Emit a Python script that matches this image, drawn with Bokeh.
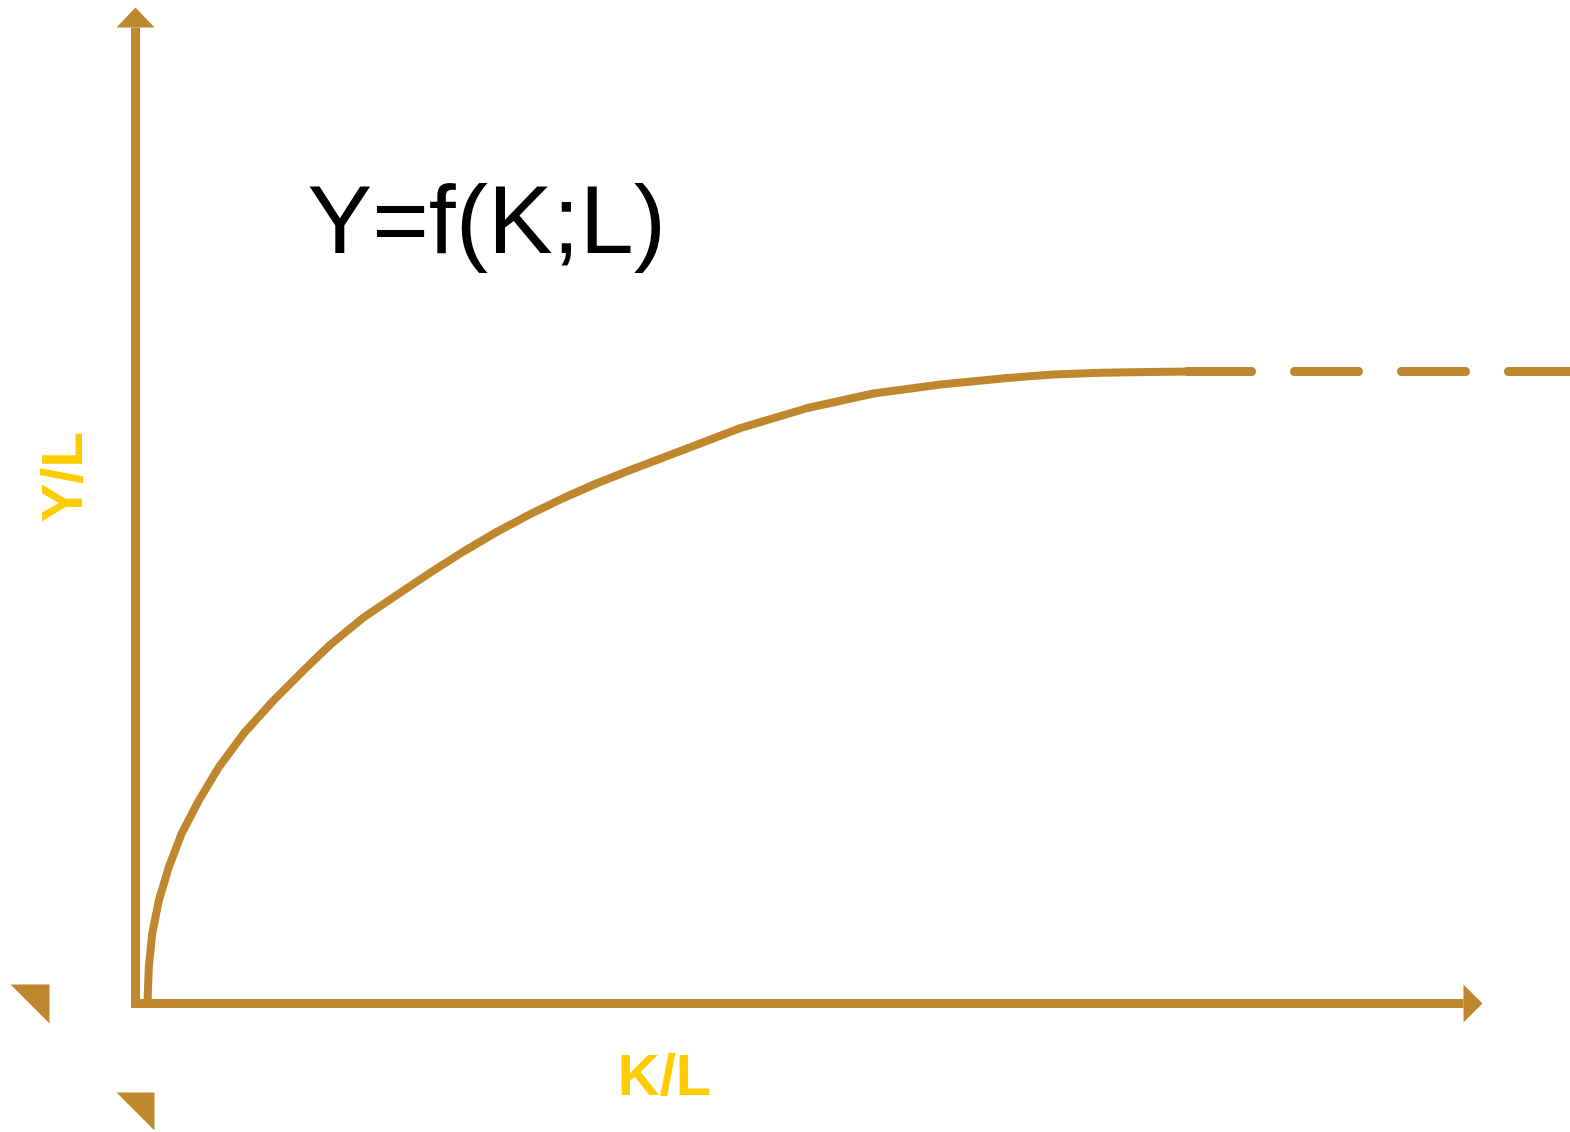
import math
from bokeh.plotting import figure
from bokeh.models import Range1d
from bokeh.core.properties import value
from bokeh.embed import file_html
from bokeh.resources import INLINE

# ---- data (units: K/L horizontally, Y/L vertically) ----
curve_k = [0.12, 0.133, 0.167, 0.233, 0.333, 0.46, 0.633, 0.833, 1.08, 1.38,
           1.71, 1.95, 2.28, 2.62, 2.95, 3.28, 3.62, 3.95, 4.28, 4.62, 4.95,
           5.28, 6.05, 6.72, 7.38, 8.05, 8.72, 9.18, 9.65, 10.15, 10.52]
curve_y = [0.0, 0.363, 0.697, 1.03, 1.363, 1.697, 2.03, 2.363, 2.697, 3.03,
           3.36, 3.59, 3.86, 4.09, 4.31, 4.52, 4.72, 4.895, 5.055, 5.205, 5.335,
           5.46, 5.755, 5.955, 6.10, 6.19, 6.255, 6.29, 6.307, 6.316, 6.32]
asym_k = [10.52, 14.6]
asym_y = [6.32, 6.32]

x_axis_end = 13.28
y_axis_end = 9.76
arrow_half = 0.19
arrow_len = 0.19

title_text = "Y=f(K;L)"
xlabel_text = "K/L"
ylabel_text = "Y/L"

GOLD = "#BF872E"
YELLOW = "#FFCC00"

p = figure(width=1570, height=1132, output_backend="svg", toolbar_location=None,
           x_range=Range1d(-1.35, 14.35), y_range=Range1d(-1.29, 10.03),
           x_axis_type=None, y_axis_type=None, min_border=0)
p.outline_line_color = None
p.grid.visible = False
p.background_fill_color = "white"
p.border_fill_color = "white"

# curve
p.line(curve_k, curve_y, line_color=GOLD, line_width=8, line_join="round")
# dashed asymptote
p.line(asym_k, asym_y, line_color=GOLD, line_width=9, line_dash="64 43",
       line_cap="round")

# axes
p.line([0, 0], [-0.04, y_axis_end], line_color=GOLD, line_width=9, line_cap="butt")
p.line([-0.04, x_axis_end], [0, 0], line_color=GOLD, line_width=9, line_cap="butt")
# arrow heads
p.patches([[-arrow_half, arrow_half, 0],
           [x_axis_end, x_axis_end, x_axis_end + arrow_len]],
          [[y_axis_end, y_axis_end, y_axis_end + 0.20],
           [arrow_half, -arrow_half, 0]],
          fill_color=GOLD, line_color=None)
# stray arrow tails
p.patches([[-1.25, -0.86, -0.86], [-arrow_half, arrow_half, arrow_half]],
          [[0.19, 0.19, -0.20], [-0.89, -0.89, -1.27]],
          fill_color=GOLD, line_color=None)

# texts
p.text(x=[1.72], y=[7.84], text=[title_text], text_font=value("Liberation Sans"),
       text_font_size="97px", text_color="black", text_align="left",
       text_baseline="alphabetic")
p.text(x=[5.29], y=[-0.71], text=[xlabel_text], text_font=value("Liberation Sans"),
       text_font_size="58px", text_font_style="bold", text_color=YELLOW,
       text_align="center", text_baseline="alphabetic")
p.text(x=[-0.737], y=[5.263], text=[ylabel_text], text_font=value("Liberation Sans"),
       text_font_size="58px", text_font_style="bold", text_color=YELLOW,
       text_align="center", text_baseline="alphabetic", angle=math.pi / 2)

open("out.html", "w").write(file_html(p, INLINE))
